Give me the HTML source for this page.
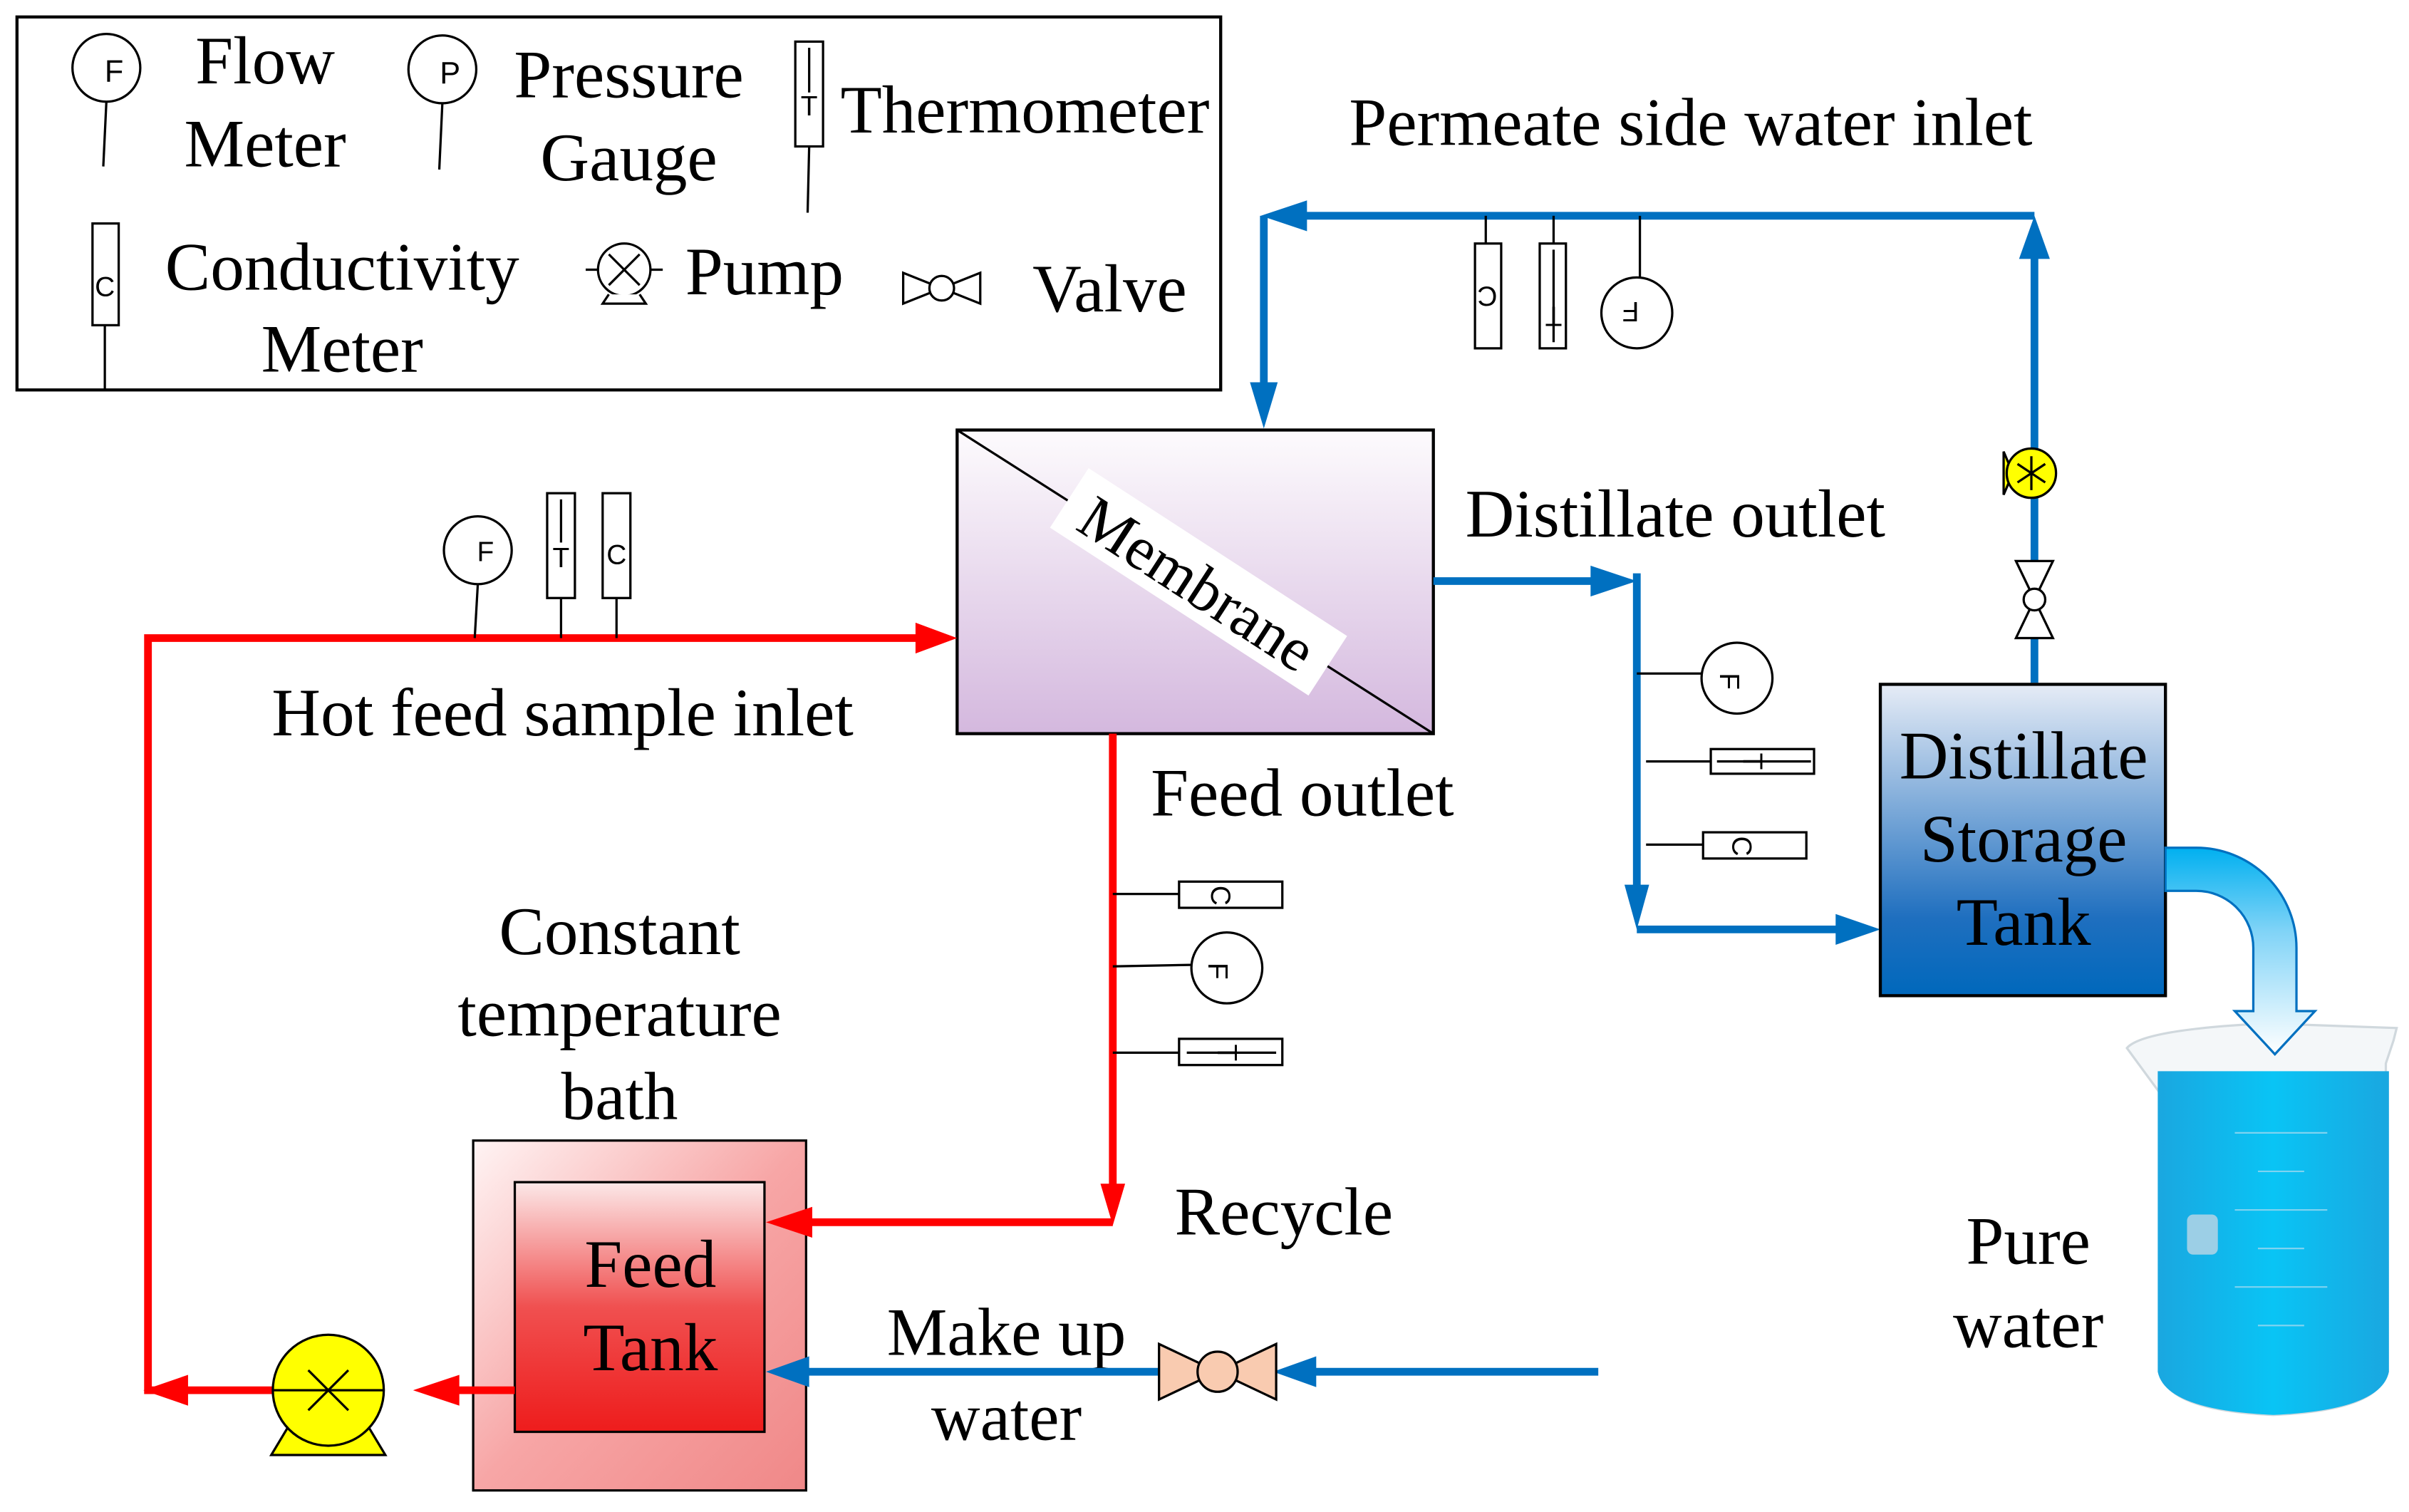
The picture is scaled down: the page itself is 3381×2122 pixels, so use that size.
<!DOCTYPE html>
<html><head><meta charset="utf-8"><style>html,body{margin:0;padding:0;background:#fff}svg{display:block}</style></head>
<body>
<svg width="3381" height="2122" viewBox="0 0 1563 981" xmlns="http://www.w3.org/2000/svg" font-family="Liberation Serif, serif">
<defs>
<linearGradient id="mem" x1="0" y1="0" x2="0" y2="1"><stop offset="0" stop-color="#fdfbfd"/><stop offset="1" stop-color="#d4b8de"/></linearGradient>
<linearGradient id="dst" x1="0" y1="0" x2="0" y2="1"><stop offset="0" stop-color="#e6ecf6"/><stop offset="0.75" stop-color="#1f6fbf"/><stop offset="1" stop-color="#0068bc"/></linearGradient>
<linearGradient id="bath" x1="0" y1="0" x2="1" y2="1"><stop offset="0" stop-color="#fff4f4"/><stop offset="0.5" stop-color="#f7a6a6"/><stop offset="1" stop-color="#f08888"/></linearGradient>
<linearGradient id="ftank" x1="0" y1="0" x2="0" y2="1"><stop offset="0" stop-color="#fce8e8"/><stop offset="0.5" stop-color="#f05050"/><stop offset="1" stop-color="#ee1c1c"/></linearGradient>
<linearGradient id="pipe" x1="0" y1="0" x2="0" y2="1"><stop offset="0" stop-color="#00b0f0"/><stop offset="0.4" stop-color="#7fd3f7"/><stop offset="1" stop-color="#ffffff"/></linearGradient>
<linearGradient id="water" x1="0" y1="0" x2="1" y2="0"><stop offset="0" stop-color="#1aa7e0"/><stop offset="0.5" stop-color="#09c4f5"/><stop offset="1" stop-color="#1aa7e0"/></linearGradient>
</defs>

<!-- Legend -->
<rect x="11" y="11" width="781" height="242" fill="#fff" stroke="#000" stroke-width="2"/>
<g stroke="#000" stroke-width="1.5" fill="#fff">
<line x1="69" y1="66" x2="67" y2="108"/><circle cx="69" cy="44" r="22"/>
<line x1="287" y1="67" x2="285" y2="110"/><circle cx="287" cy="45" r="22"/>
<line x1="525" y1="95" x2="524" y2="138"/><rect x="516" y="27" width="18" height="68"/><line x1="525" y1="31" x2="525" y2="60"/>
<line x1="68" y1="211" x2="68" y2="253"/><rect x="60" y="145" width="17" height="66"/>
<line x1="380" y1="175" x2="430" y2="175"/><circle cx="405" cy="175" r="17"/><line x1="395" y1="165" x2="415" y2="185"/><line x1="415" y1="165" x2="395" y2="185"/><path d="M395 191 L391 197 L419 197 L415 191"/>
<path d="M586 177 L636 197 L636 177 L586 197 Z"/><circle cx="611" cy="187" r="8"/>
</g>
<g font-size="44" text-anchor="middle" fill="#000">
<text x="74" y="53" font-size="20" font-family="Liberation Sans, sans-serif">F</text>
<text x="292" y="54" font-size="20" font-family="Liberation Sans, sans-serif">P</text>
<text x="525" y="75" font-size="18" font-family="Liberation Sans, sans-serif">T</text>
<text x="68" y="192" font-size="18" font-family="Liberation Sans, sans-serif">C</text>
<text x="172" y="54">Flow</text><text x="172" y="108">Meter</text>
<text x="408" y="63">Pressure</text><text x="408" y="117">Gauge</text>
<text x="665" y="86">Thermometer</text>
<text x="222" y="188">Conductivity</text><text x="222" y="241">Meter</text>
<text x="496" y="191">Pump</text>
<text x="720" y="202">Valve</text>
</g>

<!-- Membrane -->
<rect x="621" y="279" width="309" height="197" fill="url(#mem)" stroke="#000" stroke-width="2"/>
<line x1="621" y1="279" x2="930" y2="476" stroke="#000" stroke-width="1.5"/>
<g transform="translate(776,380) rotate(33)">
<rect x="-100" y="-26" width="200" height="46" fill="#fff"/>
<text x="0" y="12" font-size="40" text-anchor="middle">Membrane</text>
</g>

<!-- bath & tank -->
<rect x="307" y="740" width="216" height="227" fill="url(#bath)" stroke="#000" stroke-width="1.5"/>
<rect x="334" y="767" width="162" height="162" fill="url(#ftank)" stroke="#000" stroke-width="1.5"/>

<!-- Red loop -->
<g stroke="#ff0000" stroke-width="5" fill="none">
<polyline points="596,414 96,414 96,902 118,902"/>
<line x1="722" y1="476" x2="722" y2="770"/>
<polyline points="722,793 525,793"/>
<line x1="334" y1="902" x2="296" y2="902"/>
<line x1="177" y1="902" x2="120" y2="902"/>
</g>
<g fill="#ff0000">
<polygon points="621,414 594,404 594,424"/>
<polygon points="722,795 714,768 730,768"/>
<polygon points="497,793 527,783 527,803"/>
<polygon points="268,902 298,892 298,912"/>
<polygon points="93,902 122,892 122,912"/>
</g>
<!-- sensors on hot feed -->
<g stroke="#000" stroke-width="1.5" fill="#fff">
<line x1="310" y1="379" x2="308" y2="414"/><circle cx="310" cy="357" r="22"/>
<line x1="364" y1="388" x2="364" y2="414"/><rect x="355" y="320" width="18" height="68"/><line x1="364" y1="324" x2="364" y2="352"/>
<line x1="400" y1="388" x2="400" y2="414"/><rect x="391" y="320" width="18" height="68"/>
<line x1="722" y1="580" x2="765" y2="580"/><rect x="765" y="572" width="67" height="17"/>
<line x1="722" y1="627" x2="773" y2="626"/><ellipse cx="796" cy="628" rx="23" ry="23"/>
<line x1="722" y1="683" x2="765" y2="683"/><rect x="765" y="674" width="67" height="17"/><line x1="770" y1="683" x2="828" y2="683"/>
</g>
<g font-family="Liberation Sans, sans-serif" font-size="18" text-anchor="middle">
<text x="315" y="364">F</text><text x="364" y="368">T</text><text x="400" y="366">C</text>
<text transform="translate(792,581) rotate(90)" text-anchor="middle" y="6">C</text>
<text transform="translate(790,630) rotate(90)" text-anchor="middle" y="6">F</text>
<text transform="translate(796,683) rotate(90)" text-anchor="middle" y="6">T</text>
</g>

<g font-size="44" text-anchor="middle">
<text x="422" y="835">Feed</text><text x="422" y="889">Tank</text>
<text x="402" y="619">Constant</text><text x="402" y="672">temperature</text><text x="402" y="726">bath</text>
<text x="365" y="477">Hot feed sample inlet</text>
<text x="845" y="529">Feed outlet</text>
<text x="833" y="801">Recycle</text>
<text x="653" y="879">Make up</text><text x="653" y="934">water</text>
<text x="1097" y="94">Permeate side water inlet</text>
<text x="1087" y="348">Distillate outlet</text>
<text x="1316" y="820">Pure</text><text x="1316" y="874">water</text>
</g>
<!-- feed pump -->
<g stroke="#000" stroke-width="1.5">
<path d="M188 924 L176 944 L250 944 L238 924 Z" fill="#ffff00"/>
<circle cx="213" cy="902" r="36" fill="#ffff00"/>
<line x1="177" y1="902" x2="249" y2="902"/><line x1="200" y1="889" x2="226" y2="915"/><line x1="226" y1="889" x2="200" y2="915"/>
</g>

<!-- Blue lines -->
<g stroke="#0070c0" stroke-width="5" fill="none">
<line x1="1037" y1="890" x2="852" y2="890"/>
<line x1="752" y1="890" x2="522" y2="890"/>
<polyline points="1320,443 1320,165"/>
<polyline points="1320,140 845,140"/>
<polyline points="820,140 820,252"/>
<line x1="930" y1="377" x2="1038" y2="377"/>
<line x1="1062" y1="372" x2="1062" y2="578"/>
<line x1="1062" y1="603" x2="1196" y2="603"/>
</g>
<g fill="#0070c0">
<polygon points="826,890 854,880 854,900"/>
<polygon points="497,890 525,880 525,900"/>
<polygon points="1320,140 1310,168 1330,168"/>
<polygon points="818,140 848,130 848,150"/>
<polygon points="820,278 811,248 829,248"/>
<polygon points="1062,377 1032,367 1032,387"/>
<polygon points="1062,603 1054,574 1070,574"/>
<polygon points="1220,603 1191,593 1191,613"/>
</g>
<!-- makeup valve -->
<path d="M752 872 L828 908 L828 872 L752 908 Z" fill="#f9cbb0" stroke="#000" stroke-width="1.5"/>
<circle cx="790" cy="890" r="13" fill="#f9cbb0" stroke="#000" stroke-width="1.5"/>
<!-- small pump & valve on right -->
<g stroke="#000" stroke-width="1.5">
<path d="M1300 293 L1306 307 L1300 321 Z" fill="#ffff00"/>
<circle cx="1318" cy="307" r="16" fill="#ffff00"/>
<line x1="1318" y1="296" x2="1318" y2="318"/><line x1="1309" y1="301" x2="1327" y2="313"/><line x1="1327" y1="301" x2="1309" y2="313"/>
<path d="M1308 364 L1332 414 L1308 414 L1332 364 Z" fill="#fff"/>
<circle cx="1320" cy="389" r="7" fill="#fff"/>
</g>
<!-- top sensors -->
<g stroke="#000" stroke-width="1.5" fill="#fff">
<line x1="964" y1="140" x2="964" y2="158"/><rect x="957" y="158" width="17" height="68"/>
<line x1="1008" y1="140" x2="1008" y2="158"/><rect x="999" y="158" width="17" height="68"/><line x1="1008" y1="162" x2="1008" y2="222"/>
<line x1="1064" y1="140" x2="1064" y2="180"/><circle cx="1062" cy="203" r="23"/>
<line x1="1062" y1="437" x2="1104" y2="437"/><circle cx="1127" cy="440" r="23"/>
<line x1="1068" y1="494" x2="1110" y2="494"/><rect x="1110" y="486" width="67" height="16"/><line x1="1114" y1="494" x2="1175" y2="494"/>
<line x1="1068" y1="548" x2="1105" y2="548"/><rect x="1105" y="540" width="67" height="17"/>
</g>
<g font-family="Liberation Sans, sans-serif" font-size="18" text-anchor="middle">
<text transform="translate(965,192) rotate(180)" y="6">C</text>
<text transform="translate(1008,205) rotate(180)" y="6">T</text>
<text transform="translate(1058,202) rotate(180)" y="6">F</text>
<text transform="translate(1122,442) rotate(90)" y="6">F</text>
<text transform="translate(1137,494) rotate(90)" y="6">T</text>
<text transform="translate(1130,549) rotate(90)" y="6">C</text>
</g>

<!-- storage tank -->
<rect x="1220" y="444" width="185" height="202" fill="url(#dst)" stroke="#000" stroke-width="2"/>
<g font-size="44" text-anchor="middle">
<text x="1313" y="505">Distillate</text><text x="1313" y="559">Storage</text><text x="1313" y="613">Tank</text>
</g>
<!-- beaker -->
<path d="M1380 680 Q1390 668 1470 664 L1555 667 L1553 675 L1548 690 L1548 890 Q1545 915 1475 918 Q1405 915 1402 890 L1402 710 Z" fill="#f4f7f9" stroke="#d0d8dd" stroke-width="1.5"/>
<path d="M1400 695 L1550 695 L1550 890 Q1545 915 1475 918 Q1405 915 1400 890 Z" fill="url(#water)"/>
<rect x="1419" y="788" width="20" height="26" rx="4" fill="#9ccfe6"/>
<g stroke="#7fd3f0" stroke-width="1"><line x1="1450" y1="735" x2="1510" y2="735"/><line x1="1450" y1="785" x2="1510" y2="785"/><line x1="1450" y1="835" x2="1510" y2="835"/><line x1="1465" y1="760" x2="1495" y2="760"/><line x1="1465" y1="810" x2="1495" y2="810"/><line x1="1465" y1="860" x2="1495" y2="860"/></g>
<!-- curved pipe arrow -->
<path d="M1405 550 L1425 550 A65 65 0 0 1 1490 615 L1490 656 L1502 656 L1476 684 L1450 656 L1462 656 L1462 615 A37 37 0 0 0 1425 578 L1405 578 Z" fill="url(#pipe)" stroke="#0070c0" stroke-width="1.5"/>
</svg>
</body></html>
